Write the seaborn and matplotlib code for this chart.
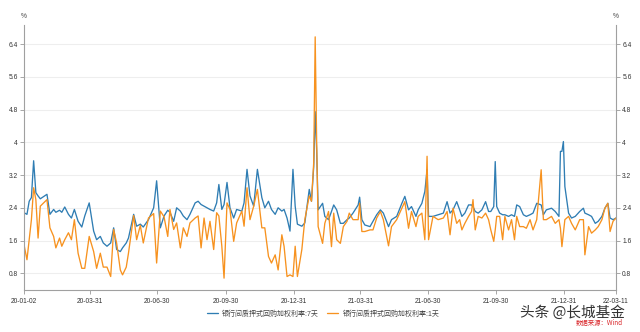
import matplotlib
matplotlib.use("Agg")
import numpy as np
import pandas as pd
import seaborn as sns
import matplotlib.pyplot as plt
import matplotlib.dates as mdates

# ---------------- data ----------------
start_date = "2020-01-02"
day_offsets = [0, 4, 7, 10, 13, 16, 19, 22, 26, 31, 35, 40, 43, 48, 51, 55, 60, 64, 68, 73,
               78, 82, 88, 94, 98, 103, 107, 112, 117, 121, 125, 130, 133, 138, 141, 148, 152, 157, 161, 168,
               175, 179, 184, 189, 194, 197, 202, 206, 211, 215, 220, 224, 231, 235, 239, 243, 247, 251, 256, 260,
               263, 267, 270, 274, 278, 283, 287, 294, 297, 301, 305, 310, 315, 321, 325, 330, 334, 339, 343, 348,
               351, 355, 359, 363, 366, 369, 375, 379, 385, 388, 391, 393, 395, 397, 400, 403, 406, 411, 415, 418,
               422, 427, 431, 436, 439, 444, 451, 453, 456, 460, 467, 471, 476, 481, 485, 492, 496, 503, 510, 514,
               519, 523, 529, 532, 537, 541, 544, 546, 552, 559, 566, 571, 575, 579, 584, 588, 591, 595, 600, 604,
               606, 609, 613, 618, 623, 627, 630, 634, 636, 638, 642, 646, 649, 654, 658, 662, 665, 669, 674, 678,
               683, 687, 692, 698, 701, 705, 712, 717, 722, 724, 726, 728, 730, 735, 739, 744, 750, 755, 757, 762,
               766, 771, 775, 780, 784, 788, 791, 795, 799]

rate_7d = [2.28, 2.24, 2.56, 2.65, 3.55, 2.77, 2.69, 2.62, 2.67, 2.73, 2.24, 2.36, 2.29, 2.34, 2.29, 2.42, 2.24, 2.15, 2.36, 2.07,
           1.93, 2.20, 2.52, 1.83, 1.62, 1.70, 1.54, 1.46, 1.54, 1.91, 1.38, 1.33, 1.42, 1.54, 1.66, 2.24, 1.95, 2.00, 1.93, 2.11,
           2.40, 3.06, 1.91, 2.20, 2.34, 2.29, 2.07, 2.40, 2.32, 2.20, 2.11, 2.24, 2.52, 2.56, 2.48, 2.44, 2.40, 2.36, 2.32, 2.52,
           2.97, 2.36, 2.48, 3.02, 2.40, 2.15, 2.36, 2.32, 2.52, 3.34, 2.69, 2.44, 3.34, 2.65, 2.40, 2.56, 2.36, 2.24, 2.40, 2.32,
           2.36, 2.15, 1.83, 3.34, 2.44, 2.00, 1.95, 2.03, 2.85, 2.56, 3.40, 4.75, 3.80, 2.35, 2.43, 2.51, 2.19, 2.11, 2.31, 2.47,
           2.35, 2.02, 2.02, 2.11, 2.15, 2.27, 2.47, 2.66, 2.11, 1.98, 1.94, 2.07, 2.23, 2.35, 2.27, 1.94, 2.11, 2.19, 2.51, 2.68,
           2.35, 2.43, 2.19, 2.35, 2.51, 2.80, 3.33, 2.19, 2.19, 2.23, 2.27, 2.55, 2.27, 2.35, 2.55, 2.35, 2.19, 2.27, 2.47, 2.47,
           2.43, 2.31, 2.27, 2.35, 2.55, 2.31, 2.31, 2.43, 3.53, 2.43, 2.27, 2.23, 2.23, 2.19, 2.23, 2.19, 2.47, 2.43, 2.23, 2.19,
           2.23, 2.27, 2.51, 2.47, 2.23, 2.35, 2.39, 2.31, 2.19, 3.78, 3.78, 4.02, 2.92, 2.27, 2.15, 2.19, 2.31, 2.39, 2.27, 2.23,
           2.19, 2.02, 2.07, 2.19, 2.39, 2.51, 2.15, 2.11, 2.15]

rate_1d = [1.50, 1.13, 1.62, 2.11, 2.89, 2.60, 1.66, 2.44, 2.51, 2.60, 1.91, 1.70, 1.42, 1.66, 1.46, 1.62, 1.79, 1.62, 2.11, 1.29,
           0.92, 0.92, 1.70, 1.33, 0.92, 1.29, 0.95, 0.95, 0.72, 1.87, 1.54, 0.88, 0.76, 0.95, 1.29, 2.21, 1.62, 1.97, 1.54, 2.15,
           2.26, 1.05, 2.32, 2.18, 1.70, 2.36, 1.87, 2.03, 1.42, 1.91, 1.70, 2.03, 2.15, 2.20, 1.42, 2.15, 1.62, 2.07, 1.38, 2.28,
           2.20, 1.46, 0.68, 2.52, 2.36, 1.58, 2.03, 2.32, 1.95, 2.89, 2.11, 2.44, 2.85, 1.91, 1.91, 1.21, 1.05, 1.25, 0.88, 1.74,
           1.46, 0.72, 0.76, 0.72, 1.46, 0.72, 1.38, 2.11, 2.69, 2.56, 3.50, 6.58, 4.00, 1.94, 1.74, 1.53, 2.02, 2.31, 1.45, 2.27,
           1.62, 1.53, 1.94, 2.07, 2.27, 2.11, 2.11, 2.51, 1.82, 1.82, 1.86, 1.86, 2.15, 2.31, 2.11, 1.47, 1.94, 2.11, 2.39, 2.55,
           1.90, 2.31, 1.94, 2.19, 2.27, 1.62, 3.66, 1.62, 2.19, 2.11, 2.15, 2.31, 1.74, 2.39, 2.02, 2.11, 1.86, 2.02, 2.19, 2.31,
           2.60, 1.86, 2.19, 2.15, 2.27, 2.11, 1.86, 1.58, 1.86, 2.19, 2.19, 1.62, 2.19, 1.86, 2.11, 1.62, 2.19, 1.94, 1.94, 1.90,
           2.11, 1.86, 2.11, 3.33, 2.11, 2.11, 2.19, 2.02, 2.11, 1.90, 1.45, 1.78, 2.11, 2.19, 2.02, 1.86, 2.11, 2.11, 1.25, 1.94,
           1.78, 1.86, 1.94, 2.11, 2.39, 2.51, 1.82, 2.07, 2.15]

series_names = ["银行间质押式回购加权利率:7天", "银行间质押式回购加权利率:1天"]
tick_dates = ["2020-01-02", "2020-03-31", "2020-06-30", "2020-09-30", "2020-12-31",
              "2021-03-31", "2021-06-30", "2021-09-30", "2021-12-31", "2022-03-11"]
y_ticks = [0.8, 1.6, 2.4, 3.2, 4.0, 4.8, 5.6, 6.4]

# ---------------- build frame ----------------
dates = pd.Timestamp(start_date) + pd.to_timedelta(day_offsets, unit="D")
wide = pd.DataFrame({"date": dates, series_names[0]: rate_7d, series_names[1]: rate_1d})
long = wide.melt(id_vars="date", var_name="series", value_name="value")

sns.set_style("white")
plt.rcParams["font.family"] = ["Liberation Sans", "Noto Sans CJK SC", "DejaVu Sans"]

fig = plt.figure(figsize=(6.4, 3.32), dpi=100)
ax = fig.add_axes([24 / 640, 1 - 290 / 332, (616 - 24) / 640, (290 - 25) / 332])

blue = "#2f7db3"
orange = "#f7921f"
sns.lineplot(data=long, x="date", y="value", hue="series", hue_order=series_names,
             palette=[blue, orange], linewidth=0.95, ax=ax, sort=False, estimator=None)

ax.set_xlim(pd.Timestamp(tick_dates[0]), pd.Timestamp(tick_dates[-1]))
ax.set_ylim(0.39, 6.87)
ax.set_xlabel("")
ax.set_ylabel("")

ax.set_yticks(y_ticks)
ax.set_yticklabels([f"{v:g}" for v in y_ticks])
ax.set_xticks([pd.Timestamp(d) for d in tick_dates])
ax.xaxis.set_major_formatter(mdates.DateFormatter("%y-%m-%d"))

ax.set_axisbelow(True)
ax.yaxis.grid(True, color="#eeeeee", linewidth=0.8)
ax.xaxis.grid(False)

for side in ["left", "right", "bottom"]:
    ax.spines[side].set_visible(True)
    ax.spines[side].set_color("#a0a0a0")
    ax.spines[side].set_linewidth(0.8)
ax.spines["top"].set_visible(False)

ax.tick_params(axis="y", left=True, right=True, labelleft=True, labelright=True,
               length=3, width=0.6, color="#999999", labelsize=4.8, labelcolor="#333333", pad=1.5)
ax.tick_params(axis="x", bottom=True, length=3, width=0.6, color="#999999",
               labelsize=4.8, labelcolor="#333333", pad=2.5)

fig.text(24 / 640, 1 - 17 / 332, "%", fontsize=4.8, color="#444444", ha="center", va="center")
fig.text(616 / 640, 1 - 17 / 332, "%", fontsize=4.8, color="#444444", ha="center", va="center")

handles, labels = ax.get_legend_handles_labels()
ax.get_legend().remove() if ax.get_legend() else None
fig.legend(handles, labels, loc="center", bbox_to_anchor=(0.505, 1 - 314 / 332), ncol=2,
           frameon=False, fontsize=5, handlelength=1.6, columnspacing=1.2, handletextpad=0.6,
           labelcolor="#444444")

fig.text(572 / 640, 1 - 313 / 332, "头条 @长城基金", fontsize=10.5, color="#333333",
         ha="center", va="center", family=["Noto Sans CJK SC", "DejaVu Sans"])
fig.text(599 / 640, 1 - 323 / 332, "数据来源：Wind", fontsize=4.6, color="#d9262a",
         ha="center", va="center", family=["Noto Sans CJK SC", "DejaVu Sans"])

fig.savefig("out.png", dpi=100)
